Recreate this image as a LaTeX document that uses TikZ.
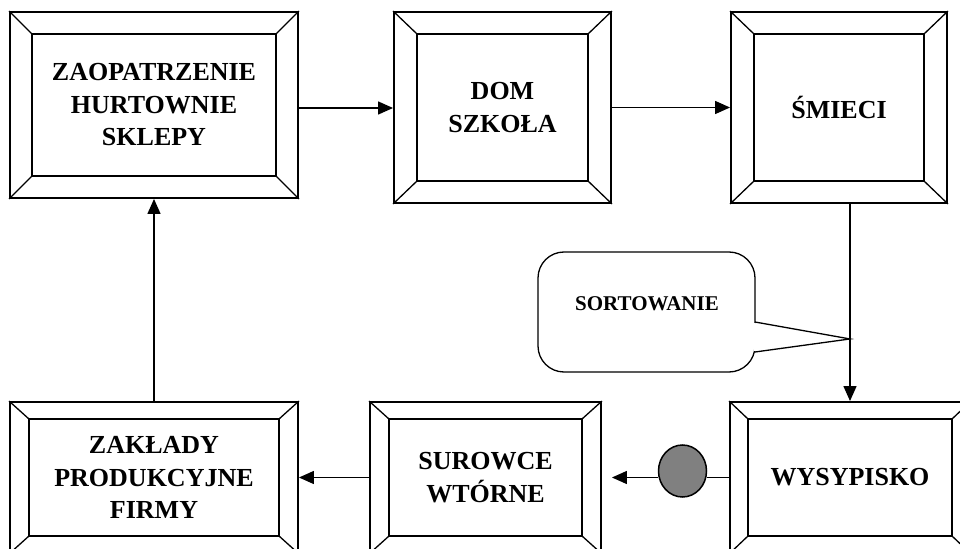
\documentclass[tikz,border=0pt]{standalone}
\usepackage{fontspec}
\setmainfont{Liberation Serif}
\usetikzlibrary{arrows.meta,shapes.geometric}
\newcommand\bevelbox[8]{%
  \node[frame, minimum width=#4bp, minimum height=#5bp] (#1) at (#2,#3) {#8};
  \draw[innerframe] ([shift={(#6,#7)}]#1.north west) rectangle ([shift={(-#6,-#7)}]#1.south east);
  \draw[bevelline] (#1.north west) -- ++(#6,#7) (#1.north east) -- ++(-#6,#7)
                   (#1.south west) -- ++(#6,-#7) (#1.south east) -- ++(-#6,-#7);
}
\begin{document}
\begin{tikzpicture}[x=1bp,y=-1bp,
  frame/.style={draw, line width=1.9bp, rectangle, inner sep=0pt, align=center,
                font=\bfseries\fontsize{26bp}{32.5bp}\selectfont},
  bevelline/.style={line width=1.3bp},
  innerframe/.style={line width=1.9bp},
  arr/.style={line width=1.4bp, -{Triangle[length=15bp,width=13bp]}},
  conn/.style={line width=1.4bp}]
\clip (0,0) rectangle (960,549);
\fill[white] (0,0) rectangle (960,549);
% top row
\bevelbox{A}{154}{105}{288}{186}{23}{23}{ZAOPATRZENIE\\HURTOWNIE\\SKLEPY}
\bevelbox{DOM}{502.5}{107.5}{217}{191}{24}{23}{DOM\\SZKOŁA}
\bevelbox{SM}{839}{107.5}{216}{191}{24}{23}{ŚMIECI}
% bottom row
\bevelbox{ZA}{154}{477.5}{288}{151}{20}{18}{ZAKŁADY\\PRODUKCYJNE\\FIRMY}
\bevelbox{SU}{485.5}{477.5}{231}{151}{20}{18}{SUROWCE\\WTÓRNE}
\bevelbox{WY}{850}{477.5}{240}{151}{19}{18}{WYSYPISKO}
% gray dot
\node[ellipse, draw, line width=1.5bp, fill={rgb,255:red,128;green,128;blue,128},
      minimum width=48bp, minimum height=52bp, inner sep=0pt] (dot) at (682.5,471) {};
% connectors
\coordinate (a1) at ([yshift=-3bp]A.east);
\draw[arr] (a1) -- (a1 -| DOM.west);
\draw[arr] (DOM.east) -- (DOM.east -| SM.west);
\coordinate (s1) at (SM.south -| WY.north);
\draw[arr] (s1) -- (WY.north);
\draw[conn] (WY.west) -- (WY.west -| dot.east);
\coordinate (su1) at ([xshift=10bp]SU.east);
\draw[arr] (dot.west |- WY.west) -- (su1 |- WY.west);
\draw[arr] (SU.west) -- (SU.west -| ZA.east);
\draw[arr] (ZA.north) -- (A.south);
% callout
\path (s1) ++(0,135) coordinate (tip);
\draw[line width=1.3bp, rounded corners=26bp, fill=white] (538,252) rectangle (755,372);
\fill[white] (754,323) -- (tip) -- (754,351) -- cycle;
\draw[line width=1.3bp] (755,322) -- (tip) -- (755,352);
\node[font=\bfseries\fontsize{21bp}{24bp}\selectfont] (sort) at (647,304) {SORTOWANIE};
\end{tikzpicture}
\end{document}
